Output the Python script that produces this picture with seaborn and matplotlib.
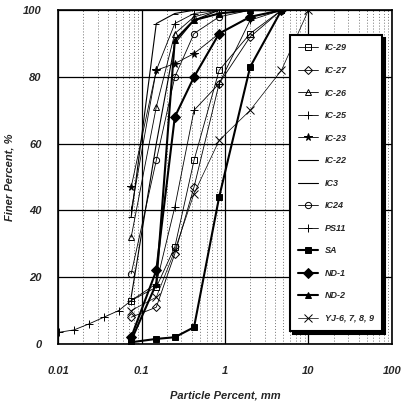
import numpy as np
import pandas as pd
import seaborn as sns
import matplotlib.pyplot as plt
from matplotlib.ticker import LogLocator, NullFormatter

# sieve sizes (mm) used for most samples
sieve = [0.075, 0.15, 0.25, 0.425, 0.85, 2.0, 4.75]

ic29 = [13, 17, 29, 55, 82, 93, 100]
ic27 = [8, 11, 27, 47, 78, 92, 100]
ic26 = [32, 71, 93, 98, 100, 100, 100]
ic25 = [40, 82, 96, 99, 100, 100, 100]
ic23 = [47, 82, 84, 87, 93, 98, 100]
ic22 = [38, 96, 99, 100, 100, 100, 100]
ic3 = [14, 60, 90, 97, 100, 100, 100]
ic24 = [21, 55, 80, 93, 98, 100, 100]
sa = [0.5, 1.5, 2, 5, 44, 83, 100]
nd1 = [2, 22, 68, 80, 93, 98, 100]
nd2 = [1, 18, 91, 97, 99, 100, 100]

# PS11 has hydrometer points below the 0.075 sieve
ps11_d = [0.0103, 0.0155, 0.0234, 0.0353, 0.0532, 0.075, 0.15, 0.25, 0.425, 0.85, 2.0, 4.75]
ps11 = [3.5, 4.2, 6, 8, 10, 13, 18, 41, 70, 78, 97, 100]

yj_d = [0.075, 0.15, 0.25, 0.425, 0.85, 2.0, 4.75, 10.0]
yj = [10, 14, 28, 45, 61, 70, 82, 100]

series = [
    ("IC-29", sieve, ic29, "s", "none", 0.6),
    ("IC-27", sieve, ic27, "D", "none", 0.6),
    ("IC-26", sieve, ic26, "^", "none", 0.6),
    ("IC-25", sieve, ic25, "+", "none", 0.6),
    ("IC-23", sieve, ic23, "*", "k", 0.6),
    ("IC-22", sieve, ic22, "_", "k", 0.8),
    ("IC3", sieve, ic3, "", "k", 0.8),
    ("IC24", sieve, ic24, "o", "none", 0.6),
    ("PS11", ps11_d, ps11, "+", "k", 0.6),
    ("SA", sieve, sa, "s", "k", 1.5),
    ("ND-1", sieve, nd1, "D", "k", 1.5),
    ("ND-2", sieve, nd2, "^", "k", 1.5),
    ("YJ-6, 7, 8, 9", yj_d, yj, "x", "k", 0.5),
]

sns.set_style("white")
plt.rcParams['font.family'] = ['Liberation Sans', 'DejaVu Sans']

fig = plt.figure(figsize=(4.04, 4.07), dpi=100)
ax = fig.add_axes([0.144, 0.155, 0.826, 0.82])

for name, d, y, mk, fc, lw in series:
    df = pd.DataFrame({"d": d, "y": y})
    ms = 4.5 if mk not in ("*", "+", "x") else 5.5
    if name in ("SA", "ND-1", "ND-2"):
        ms = 5
    sns.lineplot(data=df, x="d", y="y", ax=ax, sort=False, color="k", lw=lw,
                 marker=mk if mk else None, markersize=ms, markerfacecolor=fc,
                 markeredgecolor="k", markeredgewidth=0.7, label=name)

ax.set_xscale("log")
ax.set_xlim(0.01, 100)
ax.set_ylim(0, 100)
ax.set_xticks([0.01, 0.1, 1, 10, 100])
ax.set_xticklabels(["0.01", "0.1", "1", "10", "100"])
ax.set_yticks([0, 20, 40, 60, 80, 100])
ax.xaxis.set_minor_locator(LogLocator(base=10, subs=np.arange(2, 10)))
ax.xaxis.set_minor_formatter(NullFormatter())
ax.grid(which="major", color="k", lw=0.9, ls="-")
ax.grid(which="minor", axis="x", color="0.45", lw=0.7, ls=(0, (1, 2)))
for s in ax.spines.values():
    s.set_color("k")
    s.set_linewidth(1.2)
ax.tick_params(axis="x", which="both", length=0, pad=16, labelsize=8)
ax.tick_params(axis="y", length=0, pad=12, labelsize=8)
for t in ax.get_xticklabels() + ax.get_yticklabels():
    t.set_fontweight("bold")
    t.set_fontstyle("italic")

ax.set_xlabel("Particle Percent, mm", fontsize=8, fontweight="bold", fontstyle="italic", labelpad=10)
ax.set_ylabel("Finer Percent, %", fontsize=8, fontweight="bold", fontstyle="italic", labelpad=6)

leg = ax.legend(loc="lower right", bbox_to_anchor=(0.985, 0.025), handlelength=2.2,
                labelspacing=1.5, borderpad=0.9, fancybox=False, framealpha=1, edgecolor="k",
                shadow={"color": "k", "alpha": 1, "ox": 2, "oy": -2},
                prop={"weight": "bold", "style": "italic", "size": 6.5})
leg.get_frame().set_linewidth(1.5)

fig.savefig("out.png", dpi=100)
